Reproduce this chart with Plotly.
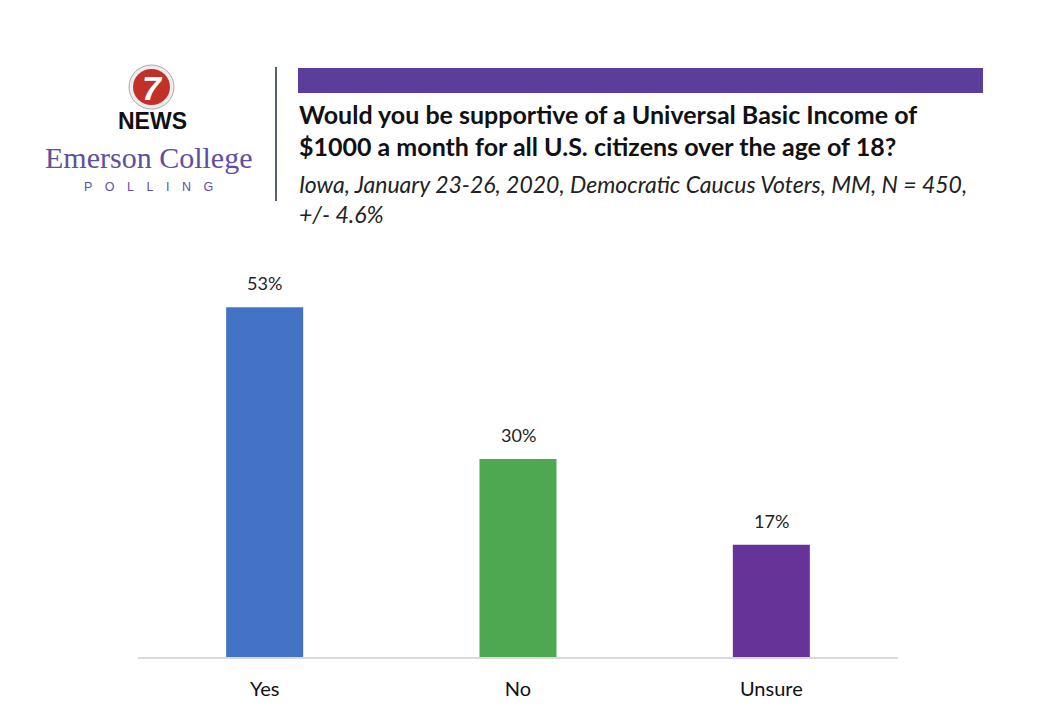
import plotly.graph_objects as go

categories = ["Yes", "No", "Unsure"]
values = [53, 30, 17]
value_labels = ["53%", "30%", "17%"]
bar_colors = ["#4472C4", "#4EA852", "#663399"]

title_lines = ["Would you be supportive of a Universal Basic Income of",
               "$1000 a month for all U.S. citizens over the age of 18?"]
subtitle_lines = ["Iowa, January 23-26, 2020, Democratic Caucus Voters, MM, N = 450,",
                  "+/- 4.6%"]

OFF = 8  # page body margin
W, H = 1032, 712
L, R = 138 - OFF, 898 - OFF
B, T = 657 - OFF, 261 - OFF
YMAX = 60

def px(x):
    return (x - OFF - L) / (R - L)

def py(y):
    return (B - (y - OFF)) / (B - T)

fig = go.Figure()
fig.add_trace(go.Bar(x=categories, y=values, marker=dict(color=bar_colors, line=dict(width=0)),
                     hoverinfo="skip"))

annotations = []
for c, v, t in zip(categories, values, value_labels):
    annotations.append(dict(x=c, y=v, xref="x", yref="y", text=t, showarrow=False,
                            xanchor="center", yanchor="bottom", yshift=11,
                            font=dict(family="Lato", size=18, color="#222222")))

# Title
for i, line in enumerate(title_lines):
    annotations.append(dict(x=px(297), y=py(114 + i * 32), xref="paper", yref="paper",
                            text="<b>" + line + "</b>", showarrow=False, xanchor="left",
                            yanchor="middle", font=dict(family="Lato", size=25, color="#111111")))
for i, line in enumerate(subtitle_lines):
    annotations.append(dict(x=px(297), y=py(184 + i * 30), xref="paper", yref="paper",
                            text="<i>" + line + "</i>", showarrow=False, xanchor="left",
                            yanchor="middle", font=dict(family="Lato", size=23, color="#222222")))

# Logo texts
shapes = [
    dict(type="rect", xref="paper", yref="paper", x0=px(298), x1=px(983), y0=py(68), y1=py(93),
         fillcolor="#5B3D9B", line=dict(width=0), layer="above"),
    dict(type="line", xref="paper", yref="paper", x0=px(276), x1=px(276), y0=py(67), y1=py(201),
         line=dict(color="#1F2A44", width=1.5)),
    dict(type="circle", xref="paper", yref="paper", x0=px(129), x1=px(174), y0=py(65), y1=py(109),
         fillcolor="#EDEDED", line=dict(color="#AAAAAA", width=1)),
    dict(type="circle", xref="paper", yref="paper", x0=px(133), x1=px(170), y0=py(69), y1=py(105),
         fillcolor="#C3302A", line=dict(width=0)),
]
annotations.append(dict(x=px(152), y=py(88), xref="paper", yref="paper", text="<b><i>7</i></b>",
                        showarrow=False, xanchor="center", yanchor="middle",
                        font=dict(family="Liberation Sans", size=34, color="white")))
annotations.append(dict(x=px(152), y=py(121), xref="paper", yref="paper", text="<b>NEWS</b>",
                        showarrow=False, xanchor="center", yanchor="middle",
                        font=dict(family="Liberation Sans", size=23, color="#111111")))
annotations.append(dict(x=px(148), y=py(158), xref="paper", yref="paper", text="Emerson College",
                        showarrow=False, xanchor="center", yanchor="middle",
                        font=dict(family="Liberation Serif", size=30, color="#5E4FA2")))
annotations.append(dict(x=px(148), y=py(187), xref="paper", yref="paper",
                        text="P\u2003O\u2003L\u2003L\u2003I\u2003N\u2003G",
                        showarrow=False, xanchor="center", yanchor="middle",
                        font=dict(family="Liberation Sans", size=12.5, color="#5E4FA2")))

fig.update_layout(
    width=W, height=H,
    margin=dict(l=L, r=W - R, t=T, b=H - B, pad=0),
    paper_bgcolor="white", plot_bgcolor="white",
    bargap=0.696,
    showlegend=False,
    annotations=annotations,
    shapes=shapes,
    xaxis=dict(showgrid=False, showline=True, linecolor="#D9D9D9", linewidth=1.5,
               ticks="outside", ticklen=13, tickcolor="rgba(0,0,0,0)",
               tickfont=dict(family="Lato", size=20, color="#111111"), fixedrange=True),
    yaxis=dict(range=[0, YMAX], visible=False, fixedrange=True),
)

fig.write_html("out.html")
